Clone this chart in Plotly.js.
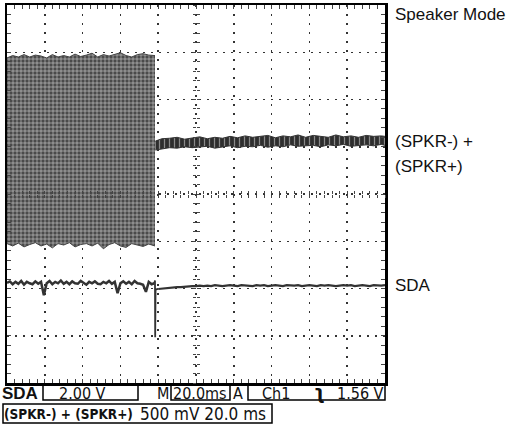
<!DOCTYPE html>
<html>
<head>
<meta charset="utf-8">
<script src="https://cdn.plot.ly/plotly-3.0.1.min.js"></script>
<style>html,body{margin:0;padding:0;background:#fff;}#chart{width:508px;height:439px;}</style>
</head>
<body>
<div id="chart"></div>
<script>
// Time in ms (20 ms/div, 10 div); vertical in screen divisions (8 div)
const burstT   = [0,3,6,9,12,15,18,21,24,27,30,33,36,39,42,45,48,51,54,57,60,63,66,69,72,75,78.3];
const burstTop = [6.88,6.93,6.9,6.95,6.9,6.94,6.92,6.88,6.95,6.9,6.93,6.9,6.96,6.91,6.94,6.98,6.9,6.95,6.92,6.96,6.99,6.93,6.9,6.95,6.97,6.94,6.93];
const burstBot = [2.95,2.9,2.96,2.88,2.93,2.97,2.9,2.94,2.86,2.95,2.92,2.97,2.88,2.93,2.95,2.9,2.96,2.84,2.93,2.97,2.9,2.87,2.95,2.92,2.89,2.94,2.9];

const spkrT   = [78.5,82,86,90,94,98,102,106,110,114,118,122,126,130,134,138,142,146,150,154,158,162,166,170,174,178,182,186,190,194,198,200];
const spkrTop = [5.12,5.17,5.18,5.2,5.16,5.19,5.21,5.17,5.2,5.18,5.22,5.19,5.23,5.2,5.22,5.24,5.19,5.23,5.21,5.25,5.2,5.24,5.22,5.2,5.25,5.21,5.23,5.2,5.24,5.22,5.23,5.22];
const spkrBot = [4.93,4.96,4.98,4.97,5.0,4.98,4.99,5.01,4.97,5.0,5.02,4.98,5.01,5.0,5.03,4.99,5.02,5.0,5.04,5.01,5.02,5.03,5.0,5.04,5.02,5.05,5.01,5.03,5.04,5.02,5.05,5.03];

const sdaPre = [2.12,2.15,2.09,2.14,2.1,2.16,2.08,2.14,2.11,2.09,
  2.15,2.1,2.14,1.86,2.11,2.16,2.09,2.14,2.11,2.17,
  2.1,2.14,2.09,2.15,2.11,2.1,2.16,2.11,2.08,2.14,
  2.11,2.15,2.1,2.09,2.14,2.11,2.16,2.1,2.14,1.9,
  2.11,2.15,2.1,2.14,2.09,2.16,2.11,2.1,2.08,1.93,
  2.14,2.09,2.11];
const sdaEdgeT = [78, 78.3, 78.4, 78.6, 79, 80];
const sdaEdgeV = [2.11, 2.17, 0.97, 1.97, 1.98, 1.99];
const sdaPost = [1.99,2.0,2.01,2.01,2.02,2.03,2.03,2.04,2.04,2.05,
  2.05,2.06,2.05,2.06,2.05,2.07,2.06,2.05,2.06,2.07,
  2.06,2.05,2.07,2.06,2.06,2.05,2.07,2.06,2.07,2.05,
  2.06,2.07,2.06,2.05,2.07,2.06,2.06,2.07,2.05,2.06,
  2.07,2.06,2.05,2.07,2.06,2.07,2.06,2.05,2.06,2.07,
  2.06,2.07,2.05,2.06,2.07,2.06,2.05,2.07,2.06,2.06,2.07];

const rightLabels = ["Speaker Mode", "(SPKR-) +", "(SPKR+)", "SDA"];

// pixel -> paper helpers (layout only)
const L=7, R=385, T=5, B=383;
const px = x => (x-L)/(R-L);
const py = y => (B-y)/(B-T);

const traceColor = '#333';
const data = [
  {x: burstT, y: burstBot, mode:'lines', line:{color:'#444', width:1}, hoverinfo:'skip', showlegend:false},
  {x: burstT, y: burstTop, mode:'lines', line:{color:'#444', width:1}, fill:'tonexty',
   fillcolor:'#4a4a4a', fillpattern:{shape:'+', fgcolor:'#eeeeee', bgcolor:'#4a4a4a', size:4, solidity:0.22},
   hoverinfo:'skip', showlegend:false},
  {x: spkrT, y: spkrBot, mode:'lines', line:{color:traceColor, width:1}, hoverinfo:'skip', showlegend:false},
  {x: spkrT, y: spkrTop, mode:'lines', line:{color:traceColor, width:1}, fill:'tonexty',
   fillcolor:'#2e2e2e', fillpattern:{shape:'|', fgcolor:'#8a8a8a', bgcolor:'#2e2e2e', size:5, solidity:0.25},
   hoverinfo:'skip', showlegend:false},
  {y: sdaPre, x0:0, dx:1.5, mode:'lines', line:{color:traceColor, width:2.5}, hoverinfo:'skip', showlegend:false},
  {x: sdaEdgeT, y: sdaEdgeV, mode:'lines', line:{color:traceColor, width:1.8}, hoverinfo:'skip', showlegend:false},
  {y: sdaPost, x0:80, dx:2, mode:'lines', line:{color:traceColor, width:2.2}, hoverinfo:'skip', showlegend:false},
  // carriers for center graticule axes (empty)
  {x: [], y: [], xaxis:'x2', yaxis:'y2', showlegend:false},
  {x: [], y: [], xaxis:'x3', yaxis:'y3', showlegend:false}
];

const gridCol = '#333';
const baseX = {range:[0,200], dtick:20, showticklabels:false, zeroline:false, fixedrange:true};
const baseY = {range:[0,8], dtick:1, showticklabels:false, zeroline:false, fixedrange:true};

const layout = {
  width:508, height:439,
  margin:{l:L, r:508-R, t:T, b:439-B, pad:0},
  paper_bgcolor:'#fff', plot_bgcolor:'#fff',
  showlegend:false,
  xaxis: Object.assign({}, baseX, {
    showgrid:true, gridcolor:gridCol, gridwidth:1.5, griddash:'2px,7px',
    showline:true, linecolor:'#000', linewidth:2.5, mirror:'ticks',
    ticks:'inside', ticklen:4, tickcolor:'#444', tickwidth:1,
    minor:{dtick:4, ticks:'inside', ticklen:4, tickcolor:'#444', tickwidth:1, showgrid:false}
  }),
  yaxis: Object.assign({}, baseY, {
    showgrid:true, gridcolor:gridCol, gridwidth:1.5, griddash:'2px,6px',
    showline:true, linecolor:'#000', linewidth:2.5, mirror:'ticks',
    ticks:'inside', ticklen:4, tickcolor:'#444', tickwidth:1,
    minor:{dtick:0.2, ticks:'inside', ticklen:4, tickcolor:'#444', tickwidth:1, showgrid:false}
  }),
  xaxis2: Object.assign({}, baseX, {overlaying:'x', anchor:'free', position:0.5, showgrid:false, showline:false,
    ticks:'inside', ticklen:3, tickcolor:'#444', minor:{dtick:4, ticks:'inside', ticklen:3, tickcolor:'#444'}}),
  yaxis2: Object.assign({}, baseY, {overlaying:'y', anchor:'free', position:0.5, showgrid:false, showline:false,
    ticks:'inside', ticklen:3, tickcolor:'#444', minor:{dtick:0.2, ticks:'inside', ticklen:3, tickcolor:'#444'}}),
  xaxis3: Object.assign({}, baseX, {overlaying:'x', anchor:'free', position:0.5, showgrid:false, showline:false,
    ticks:'outside', ticklen:3, tickcolor:'#444', minor:{dtick:4, ticks:'outside', ticklen:3, tickcolor:'#444'}}),
  yaxis3: Object.assign({}, baseY, {overlaying:'y', anchor:'free', position:0.5, showgrid:false, showline:false,
    ticks:'outside', ticklen:3, tickcolor:'#444', minor:{dtick:0.2, ticks:'outside', ticklen:3, tickcolor:'#444'}}),
  shapes: [
    {type:'rect', xref:'paper', yref:'paper', x0:px(43), x1:px(138), y0:py(400), y1:py(385), line:{color:'#000', width:1.5}},
    {type:'rect', xref:'paper', yref:'paper', x0:px(171), x1:px(230), y0:py(400), y1:py(385), line:{color:'#000', width:1.5}},
    {type:'rect', xref:'paper', yref:'paper', x0:px(248), x1:px(385), y0:py(400), y1:py(385), line:{color:'#000', width:1.5}},
    {type:'rect', xref:'paper', yref:'paper', x0:px(3), x1:px(272), y0:py(423), y1:py(404), line:{color:'#000', width:1.5}}
  ],
  annotations: []
};

const ann = (text, x, y, font) => ({text, xref:'paper', yref:'paper', x:px(x), y:py(y),
  xanchor:'left', yanchor:'middle', showarrow:false, font, borderpad:0});
const arial = s => ({family:'Liberation Sans, Arial, sans-serif', size:s, color:'#111'});
const cond = s => ({family:'DejaVu Sans Condensed, DejaVu Sans, sans-serif', size:s, color:'#111'});

layout.annotations.push(ann(rightLabels[0], 394, 14, arial(17)));
layout.annotations.push(ann(rightLabels[1], 394, 141, arial(17)));
layout.annotations.push(ann(rightLabels[2], 394, 166, arial(17)));
layout.annotations.push(ann(rightLabels[3], 394, 285, arial(17)));

layout.annotations.push(ann('<b>SDA</b>', 1, 393, arial(17)));
layout.annotations.push(ann('2.00 V', 58, 393, cond(16)));
layout.annotations.push(ann('M', 156, 393, cond(16)));
layout.annotations.push(ann('20.0ms', 172, 393, cond(16)));
layout.annotations.push(ann('A', 232, 393, cond(16)));
layout.annotations.push(ann('Ch1', 261, 393, cond(16)));
layout.annotations.push(ann('<b>ʅ</b>', 313, 392, cond(20)));
layout.annotations.push(ann('1.56 V', 336, 393, cond(16)));
layout.annotations.push(ann('<b>(SPKR-) + (SPKR+)</b>', 3, 414, cond(13.5)));
layout.annotations.push(ann('500 mV 20.0 ms', 139, 414, cond(17)));

Plotly.newPlot('chart', data, layout, {staticPlot:true, displayModeBar:false});
</script>
</body>
</html>
